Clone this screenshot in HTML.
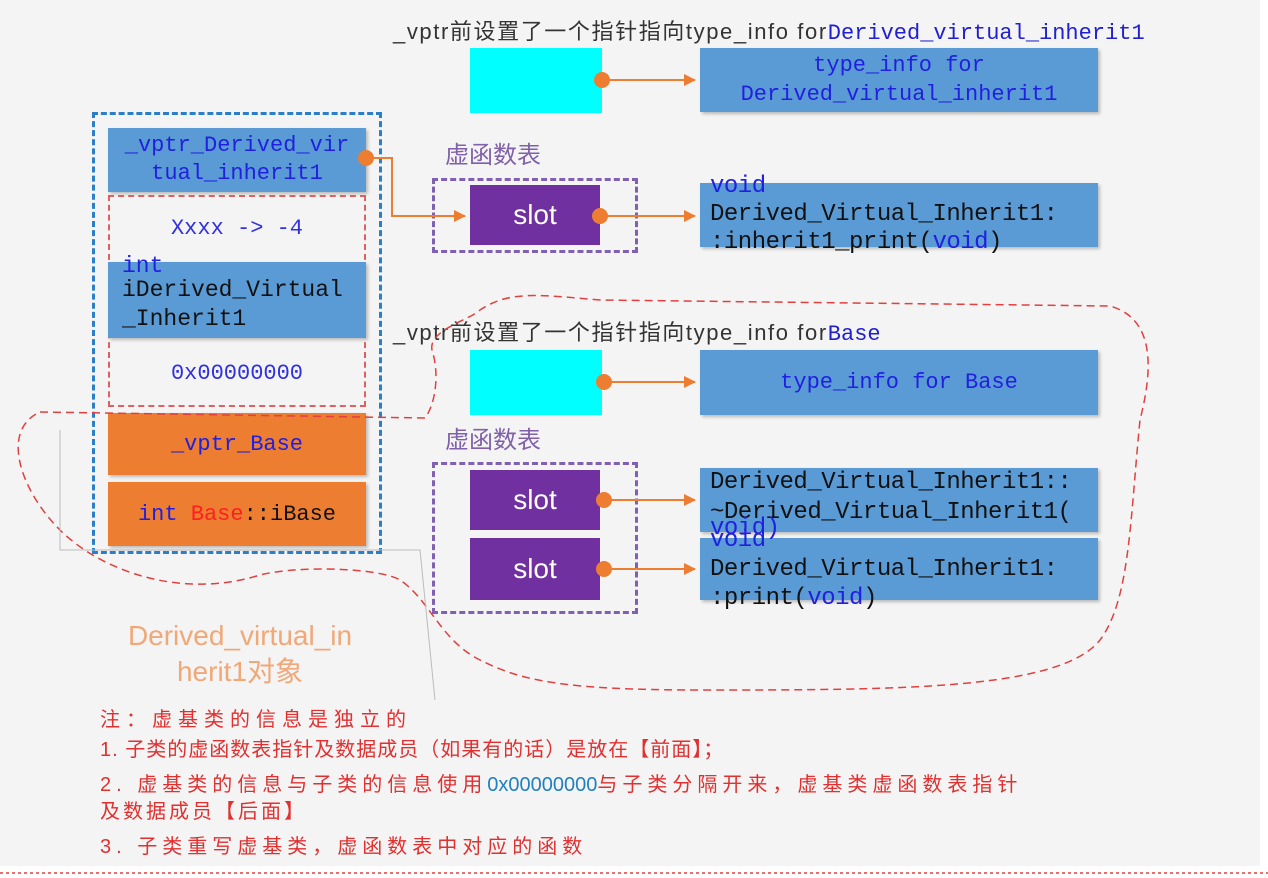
<!DOCTYPE html>
<html><head><meta charset="utf-8"><style>
body{margin:0;width:1268px;height:878px;background:#fff;position:relative;overflow:hidden;font-family:"Liberation Sans","Noto Sans CJK SC",sans-serif}
.bg{position:absolute;left:0;top:0;width:1260px;height:866px;background:#f4f4f4}
.a{position:absolute;box-sizing:border-box}
.m{font-family:"Liberation Mono","Noto Sans CJK SC",monospace;font-size:22px;line-height:29px;white-space:nowrap}
.blue{background:#5b9bd5;box-shadow:2px 2px 3px #bbb}
.or{background:#ed7d31;box-shadow:2px 2px 3px #bbb}
.cy{background:#00ffff}
.pu{background:#7030a0;color:#fff;font-size:28px;display:flex;align-items:center;justify-content:center}
.c{display:flex;align-items:center;justify-content:center;text-align:center}
.cap{font-size:22px;letter-spacing:1.6px;color:#333;white-space:nowrap}
.vf{font-size:24px;color:#8060a8}
.n{font-size:20px;color:#e03030;white-space:nowrap;line-height:24px}
.r{font-size:24px;letter-spacing:-0.5px}
</style></head><body>
<div class="bg"></div>
<div class="a cap" style="left:393px;top:14px">_vptr前设置了一个指针指向type_info for<span class="m" style="color:#2020d0;letter-spacing:0;font-size:22px">Derived_virtual_inherit1</span></div>
<div class="a cy" style="left:470px;top:48px;width:132px;height:65px"></div>
<div class="a blue c m" style="left:700px;top:48px;width:398px;height:64px;color:#2020e0">type_info for<br>Derived_virtual_inherit1</div>

<div class="a vf" style="left:445px;top:135px">虚函数表</div>
<div class="a" style="left:432px;top:178px;width:206px;height:75px;border:3px dashed #8060b0"></div>
<div class="a pu" style="left:470px;top:185px;width:130px;height:60px">slot</div>
<div class="a blue m r" style="left:700px;top:183px;width:398px;height:64px;color:#111;padding-left:10px;line-height:28px"><div style="color:#2020e0;margin-top:-10px">void</div>Derived_Virtual_Inherit1:<br>:inherit1_print(<span style="color:#2020e0">void</span>)</div>

<div class="a cap" style="left:393px;top:315px">_vptr前设置了一个指针指向type_info for<span class="m" style="color:#2020d0;letter-spacing:0">Base</span></div>
<div class="a cy" style="left:470px;top:350px;width:132px;height:65px"></div>
<div class="a blue c m" style="left:700px;top:350px;width:398px;height:65px;color:#2020e0">type_info for Base</div>

<div class="a vf" style="left:445px;top:420px">虚函数表</div>
<div class="a" style="left:432px;top:462px;width:206px;height:152px;border:3px dashed #8060b0"></div>
<div class="a pu" style="left:470px;top:470px;width:130px;height:60px">slot</div>
<div class="a pu" style="left:470px;top:538px;width:130px;height:62px">slot</div>
<div class="a blue m r" style="left:700px;top:468px;width:398px;height:64px;color:#111;padding-left:10px;line-height:30px;padding-top:-2px">Derived_Virtual_Inherit1::<br>~Derived_Virtual_Inherit1(</div>
<div class="a blue m r" style="left:700px;top:538px;width:398px;height:62px;color:#111;padding-left:10px;line-height:29px"><div style="color:#2020e0;margin-top:-12px">void</div>Derived_Virtual_Inherit1:<br>:print(<span style="color:#2020e0">void</span>)</div>
<div class="a m r" style="left:710px;top:514px;color:#2020e0">void)</div>

<div class="a" style="left:92px;top:112px;width:290px;height:442px;border:3px dashed #2a7fc8"></div>
<div class="a blue c m" style="left:108px;top:128px;width:258px;height:64px;color:#2020e0;line-height:28px">_vptr_Derived_vir<br>tual_inherit1</div>
<div class="a" style="left:108px;top:195px;width:258px;height:212px;border:2px dashed #e06060"></div>
<div class="a c m" style="left:108px;top:197px;width:258px;height:62px;color:#3030e0">Xxxx -&gt; -4</div>
<div class="a blue m" style="left:108px;top:262px;width:258px;height:76px;color:#111;padding-left:14px;line-height:29px;font-size:23px"><div style="color:#2020e0;margin-top:-6px;line-height:20px">int</div>iDerived_Virtual<br>_Inherit1</div>
<div class="a c m" style="left:108px;top:342px;width:258px;height:62px;color:#3030e0">0x00000000</div>
<div class="a or c m" style="left:108px;top:413px;width:258px;height:62px;color:#2020e0">_vptr_Base</div>
<div class="a or c m" style="left:108px;top:482px;width:258px;height:64px;color:#111"><span><span style="color:#2020e0">int</span> <span style="color:#ff2020">Base</span>::iBase</span></div>

<div class="a" style="left:100px;top:618px;width:280px;text-align:center;font-size:28px;line-height:36px;color:#f0a878">Derived_virtual_in<br>herit1对象</div>

<div class="a n" style="left:100px;top:708px;letter-spacing:6px">注：虚基类的信息是独立的</div>
<div class="a n" style="left:100px;top:738px;letter-spacing:1px">1. 子类的虚函数表指针及数据成员（如果有的话）是放在【前面】；</div>
<div class="a n" style="left:100px;top:773px;letter-spacing:5px">2. 虚基类的信息与子类的信息使用<span style="color:#2080c0;letter-spacing:0">0x00000000</span>与子类分隔开来，虚基类虚函数表指针</div>
<div class="a n" style="left:100px;top:800px;letter-spacing:3px">及数据成员【后面】</div>
<div class="a n" style="left:100px;top:835px;letter-spacing:5px">3. 子类重写虚基类，虚函数表中对应的函数</div>

<svg class="a" style="left:0;top:0" width="1268" height="878">
<defs><marker id="ar" markerWidth="12" markerHeight="12" refX="11" refY="6" orient="auto" markerUnits="userSpaceOnUse"><path d="M0,0L12,6L0,12z" fill="#ed7d31"/></marker></defs>
<g stroke="#ed7d31" stroke-width="2" fill="none">
<path d="M602,80H695" marker-end="url(#ar)"/>
<path d="M366,158H392V216H465" marker-end="url(#ar)"/>
<path d="M600,216H695" marker-end="url(#ar)"/>
<path d="M604,382H695" marker-end="url(#ar)"/>
<path d="M604,500H695" marker-end="url(#ar)"/>
<path d="M604,569H695" marker-end="url(#ar)"/>
</g>
<g fill="#ed7d31"><circle cx="366" cy="158" r="8"/><circle cx="602" cy="80" r="8"/><circle cx="600" cy="216" r="8"/><circle cx="604" cy="382" r="8"/><circle cx="604" cy="500" r="8"/><circle cx="604" cy="569" r="8"/></g>
<path d="M40,412 L425,418 C435,405 440,375 432,350 C428,330 470,320 480,310 C510,290 540,295 600,300 L1110,306 C1160,320 1150,380 1140,420 C1130,520 1130,600 1100,640 C1060,690 900,690 700,690 C560,690 520,680 480,660 C440,640 430,600 400,580 C380,568 300,565 260,575 C180,600 100,570 60,530 C20,490 0,430 40,412 Z" fill="none" stroke="#e04040" stroke-width="1.5" stroke-dasharray="8,5"/>
<path d="M60,430V550H420L435,700" fill="none" stroke="#bbb" stroke-width="1"/>
<line x1="0" y1="873" x2="1268" y2="873" stroke="#e04040" stroke-width="1.5" stroke-dasharray="3,3"/>
</svg>
</body></html>
